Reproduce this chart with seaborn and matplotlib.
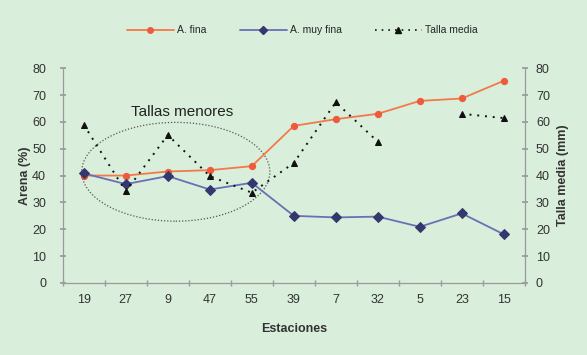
import numpy as np
import pandas as pd
import matplotlib
matplotlib.use("Agg")
import matplotlib.pyplot as plt
from matplotlib.patches import Ellipse
from matplotlib.lines import Line2D
import seaborn as sns

# Sampling stations (x axis order)
estaciones = ["19", "27", "9", "47", "55", "39", "7", "32", "5", "23", "15"]
# Sand fractions (%)
arena_fina = [40, 40, 41.5, 42, 43.5, 58.5, 61, 63, 67.8, 68.7, 75.3]
arena_muy_fina = [40.8, 36.8, 39.8, 34.8, 37.3, 25, 24.4, 24.7, 20.9, 25.9, 18.1]
# Mean size (mm); station 5 has no value
talla_media = [58.9, 34.1, 55.1, 39.8, 33.6, 44.7, 67.3, 52.6, np.nan, 63, 61.4]

bg = "#d9eedb"
sns.set_theme(style="white")
plt.rcParams["font.family"] = ["Liberation Sans", "DejaVu Sans"]

pos = np.arange(len(estaciones))
df = pd.DataFrame({
    "pos": pos,
    "fina": arena_fina,
    "muyfina": arena_muy_fina,
    "talla": talla_media,
})
# break the dotted line where a value is missing
df["tramo"] = df["talla"].isna().cumsum()
df_talla = df.dropna(subset=["talla"])

fig = plt.figure(figsize=(5.87, 3.55), dpi=100, facecolor=bg)
ax = fig.add_axes([0.107, 0.203, 0.787, 0.605])
ax.set_facecolor(bg)
ax2 = ax.twinx()

c_fina = "#f27a48"
c_fina_m = "#ef5a3c"
c_muy = "#6b6fb5"
c_muy_m = "#34386e"

sns.lineplot(data=df, x="pos", y="fina", ax=ax, color=c_fina, lw=1.3,
             marker="o", markersize=4.5, markerfacecolor=c_fina_m,
             markeredgecolor=c_fina_m, estimator=None, legend=False)
sns.lineplot(data=df, x="pos", y="muyfina", ax=ax, color=c_muy, lw=1.3,
             marker="D", markersize=5, markerfacecolor=c_muy_m,
             markeredgecolor=c_muy_m, estimator=None, legend=False)
sns.lineplot(data=df_talla, x="pos", y="talla", units="tramo", ax=ax2,
             color="#111111", lw=1.4, linestyle=(0, (1, 3)),
             marker="^", markersize=4.5, markeredgecolor="#111111",
             estimator=None, legend=False)

# Group of stations with the smaller sizes
ell = Ellipse((2.19, 41.4), 4.48, 36.8, fill=False, ls=(0, (1, 1.5)),
              lw=0.9, ec="#555555")
ax.add_patch(ell)
ax.text(2.33, 63.5, "Tallas menores", ha="center", va="center",
        fontsize=11, color="#222222")

for a in (ax, ax2):
    a.set_xlim(-0.5, len(estaciones) - 0.5)
    a.set_ylim(0, 80)
    a.set_yticks(range(0, 81, 10))
    for s in a.spines.values():
        s.set_color("#9a9a9a")
        s.set_linewidth(0.8)
    a.spines["top"].set_visible(False)

ax.set_xticks(pos)
ax.set_xticklabels(estaciones)
ax.set_xticks(np.arange(-0.5, len(estaciones)), minor=True)
ax.tick_params(axis="x", which="major", length=0, pad=8, labelsize=9,
               colors="#333333")
ax.tick_params(axis="x", which="minor", length=5, direction="inout",
               color="#9a9a9a", bottom=True)
ax.tick_params(axis="y", length=4, direction="inout", color="#9a9a9a",
               labelsize=9, labelcolor="#333333", pad=10, left=True)
ax2.tick_params(axis="y", length=4, direction="inout", color="#9a9a9a",
                labelsize=9, labelcolor="#333333", pad=6, right=True)

ax.set_xlabel("Estaciones", fontsize=9, fontweight="bold", color="#333333",
              labelpad=12)
ax.set_ylabel("Arena (%)", fontsize=9, fontweight="bold", color="#333333",
              labelpad=1)
ax2.set_ylabel("Talla media (mm)", fontsize=9, fontweight="bold",
               color="#333333", labelpad=5)

handles = [
    Line2D([], [], color=c_fina, lw=1.3, marker="o", markersize=4,
           markerfacecolor=c_fina_m, markeredgecolor=c_fina_m),
    Line2D([], [], color=c_muy, lw=1.3, marker="D", markersize=4.5,
           markerfacecolor=c_muy_m, markeredgecolor=c_muy_m),
    Line2D([], [], color="#111111", lw=1.2, ls=(0, (1, 3)), marker="^",
           markersize=4),
]
fig.legend(handles, ["A. fina", "A. muy fina", "Talla media"],
           loc="center", bbox_to_anchor=(0.515, 0.915), ncol=3, frameon=False,
           fontsize=7.5, handlelength=4.5, columnspacing=3.2, handletextpad=0.3)

fig.savefig("out.png", dpi=100, facecolor=bg)
